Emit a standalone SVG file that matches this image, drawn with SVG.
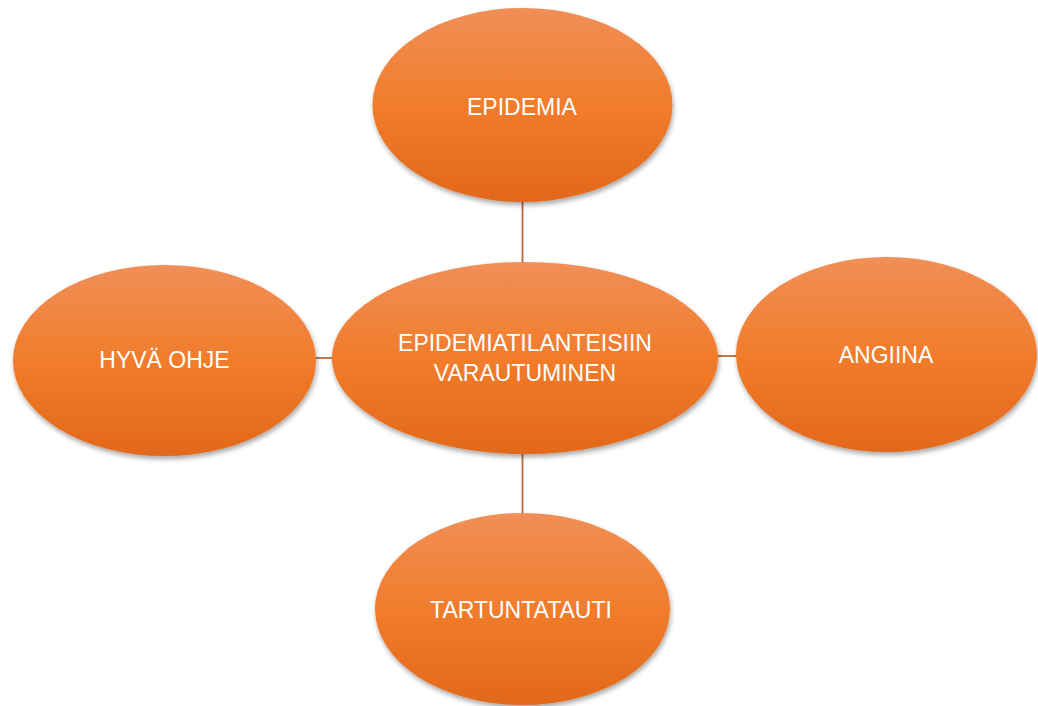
<svg xmlns="http://www.w3.org/2000/svg" width="1038" height="706" viewBox="0 0 1038 706">
  <style>
    .node ellipse { fill: url(#og); filter: url(#sh); }
    .node text { font-family: "Liberation Sans", Arial, sans-serif; font-size: 23px; fill: #FFFFFF; text-anchor: middle; }
    .conn line { stroke: #B5683A; stroke-width: 1.8; }
  </style>
  <defs>
    <linearGradient id="og" x1="0" y1="0" x2="0" y2="1">
      <stop offset="0" stop-color="#F08F57"/>
      <stop offset="0.5" stop-color="#F17C2B"/>
      <stop offset="1" stop-color="#E2681A"/>
    </linearGradient>
    <filter id="sh" x="-10%" y="-10%" width="125%" height="130%">
      <feGaussianBlur in="SourceAlpha" stdDeviation="2.5"/>
      <feOffset dx="1" dy="3" result="b"/>
      <feComponentTransfer><feFuncA type="linear" slope="0.35"/></feComponentTransfer>
      <feMerge><feMergeNode/><feMergeNode in="SourceGraphic"/></feMerge>
    </filter>
  </defs>
  <rect width="1038" height="706" fill="#FFFFFF"/>
  <g id="connectors" class="conn">
    <line x1="522.5" y1="200" x2="522.5" y2="264"/>
    <line x1="522.5" y1="452" x2="522.5" y2="515"/>
    <line x1="314" y1="358" x2="334" y2="358"/>
    <line x1="716" y1="356" x2="738" y2="356"/>
  </g>
  <g id="node-epidemia" class="node">
    <ellipse cx="522.5" cy="105" rx="150" ry="97"/>
    <text x="522" y="115">EPIDEMIA</text>
  </g>
  <g id="node-hyva-ohje" class="node">
    <ellipse cx="164.5" cy="360.5" rx="151.5" ry="95.5"/>
    <text x="164.5" y="368">HYVÄ OHJE</text>
  </g>
  <g id="node-center" class="node">
    <ellipse cx="525" cy="358" rx="193" ry="96"/>
    <text x="525" y="351">EPIDEMIATILANTEISIIN</text>
    <text x="525" y="381">VARAUTUMINEN</text>
  </g>
  <g id="node-angiina" class="node">
    <ellipse cx="886.5" cy="354.5" rx="150.5" ry="97.5"/>
    <text x="886" y="363">ANGIINA</text>
  </g>
  <g id="node-tartuntatauti" class="node">
    <ellipse cx="522.5" cy="609" rx="147.5" ry="96"/>
    <text x="521" y="618">TARTUNTATAUTI</text>
  </g>
</svg>
